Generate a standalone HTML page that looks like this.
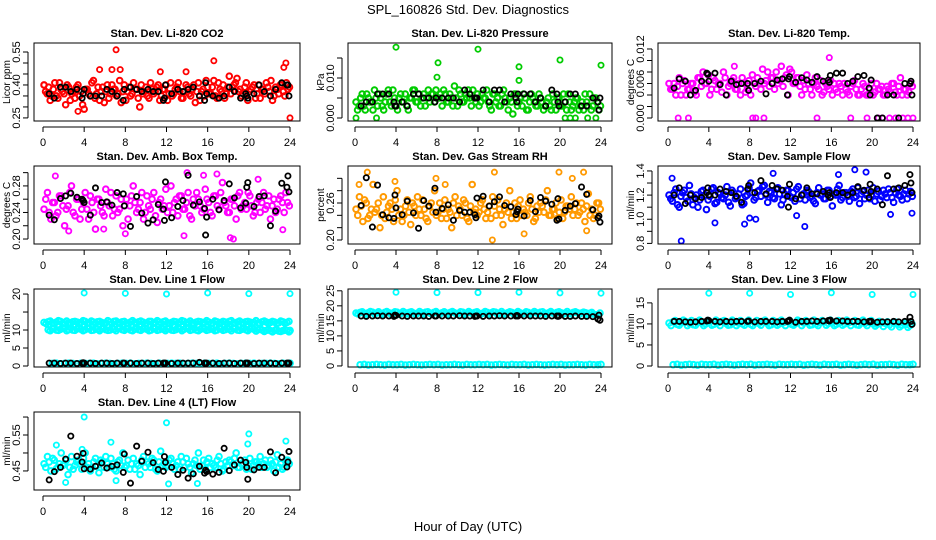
<!DOCTYPE html>
<html><head><meta charset="utf-8">
<style>
html,body{margin:0;padding:0;background:#fff;}
svg{display:block;font-family:"Liberation Sans",sans-serif;}
</style></head>
<body>
<svg id="chart" width="936" height="540" viewBox="0 0 936 540">
<text x="468" y="14" text-anchor="middle" font-size="13">SPL_160826  Std. Dev. Diagnostics</text>
<text x="468" y="531" text-anchor="middle" font-size="13">Hour of Day (UTC)</text>
</svg>
<script>
// shared hours of black (hourly) points
const blkHours=[0.6,1.1,1.7,2.2,2.7,3.3,3.8,3.9,4.0,4.6,5.1,5.7,6.2,6.7,7.2,7.8,7.9,8.5,9.1,9.6,10.2,10.7,11.2,11.7,11.8,11.9,12.5,13.1,13.6,14.1,14.6,15.2,15.7,15.8,15.9,16.5,17.1,17.6,18.1,18.6,19.2,19.7,19.8,19.9,20.5,21.0,21.5,22.1,22.6,23.2,23.7,23.8,23.9];
const xTicks=[0,4,8,12,16,20,24];

// Panel 1 CO2
const co2Vals=[0.40,0.36,0.33,0.38,0.35,0.41,0.37,0.31,0.39,0.36,0.34,0.40,0.37,0.29,0.38,0.35,0.42,0.36,0.33,0.39,0.37,0.34,0.40,0.38,0.36,0.32,0.40,0.37,0.35,0.41,0.38,0.30,0.36,0.39,0.34,0.38,0.37,0.40,0.35,0.38,0.33,0.41,0.36,0.39,0.37,0.34,0.40,0.36,0.38,0.32,0.41,0.37,0.35,0.39,0.36,0.42,0.34,0.38,0.40,0.36,0.44,0.39,0.41,0.37,0.35,0.39,0.33,0.38,0.40,0.36,0.34,0.38,0.41,0.37,0.33,0.39,0.36,0.40,0.35,0.38];
const co2Vals2=[0.37,0.39,0.35,0.41,0.34,0.38,0.36,0.40,0.33,0.37,0.39,0.35,0.31,0.38,0.36,0.41,0.34,0.39,0.37,0.32,0.40,0.36,0.38,0.35,0.42,0.37,0.33,0.39,0.36,0.38,0.34,0.40,0.37,0.35,0.41,0.36,0.39,0.33,0.38,0.40,0.36,0.35,0.38,0.41,0.34,0.37,0.39,0.35,0.40,0.37,0.33,0.38,0.42,0.36,0.39,0.35,0.41,0.37,0.34,0.39,0.36,0.40,0.43,0.38,0.36,0.41,0.37,0.39,0.34,0.40,0.38,0.36,0.39,0.42,0.35,0.38,0.40,0.37,0.41,0.39];
const co2ExtraH=[7.1,16.6,23.6,24.0,5.5,6.7,7.5,11.4,13.9,23.4,0.1,3.4];
const co2ExtraV=[0.56,0.51,0.50,0.25,0.47,0.47,0.47,0.46,0.46,0.48,0.40,0.28];
const co2Blk=[0.36,0.34,0.39,0.39,0.37,0.38,0.34,0.36,0.38,0.35,0.35,0.35,0.38,0.37,0.35,0.33,0.38,0.39,0.38,0.37,0.38,0.37,0.37,0.33,0.34,0.40,0.36,0.38,0.37,0.38,0.39,0.35,0.33,0.41,0.36,0.35,0.34,0.35,0.39,0.37,0.34,0.36,0.35,0.34,0.36,0.40,0.37,0.35,0.38,0.41,0.40,0.40,0.35];

// Panel 2 Pressure
const presVals=[0.004,0.003,0.006,0.002,0.005,0.004,0.007,0.003,0.005,0.002,0.006,0.004,0.007,0.003,0.005,0.004,0.006,0.002,0.005,0.007,0.004,0.003,0.006,0.005,0.004,0.006,0.007,0.005,0.003,0.006,0.004,0.005,0.008,0.003,0.006,0.004,0.005,0.005,0.007,0.004,0.003,0.006,0.005,0.004,0.002,0.006,0.005,0.003,0.007,0.004,0.005,0.001,0.006,0.004,0.003,0.005,0.002,0.006,0.004,0.003,0.005,0.002,0.004,0.003,0.006,0.002,0.005,0.003,0.004,0.006,0.002,0.004,0.005,0.003,0.002,0.004,0.006,0.003,0.005,0.002];
const presVals2=[0.002,0.005,0.003,0.006,0.004,0.002,0.005,0.006,0.003,0.004,0.007,0.003,0.005,0.002,0.006,0.004,0.003,0.005,0.007,0.004,0.006,0.005,0.003,0.007,0.006,0.004,0.005,0.006,0.007,0.004,0.006,0.003,0.005,0.007,0.004,0.006,0.007,0.003,0.005,0.006,0.004,0.005,0.007,0.003,0.006,0.004,0.003,0.006,0.005,0.002,0.004,0.006,0.003,0.005,0.006,0.002,0.004,0.005,0.003,0.006,0.004,0.003,0.005,0.002,0.004,0.005,0.003,0.006,0.002,0.004,0.003,0.005,0.002,0.004,0.006,0.003,0.002,0.005,0.004,0.003];
const presExtraH=[4.0,8.1,12.0,16.0,20.0,24.0,8.0,16.0,0.1,2.1,20.5,21.0,21.5,22.7,23.5];
const presExtraV=[0.0177,0.0138,0.0172,0.0128,0.0145,0.0132,0.0102,0.0094,0.0000,0.0000,0.0000,0.0000,0.0000,0.0000,0.0000];
const presBlk=[0.003,0.004,0.004,0.006,0.006,0.006,0.004,0.003,0.003,0.004,0.003,0.006,0.006,0.005,0.005,0.004,0.005,0.005,0.005,0.005,0.004,0.007,0.006,0.005,0.005,0.005,0.007,0.004,0.007,0.007,0.004,0.006,0.005,0.004,0.006,0.006,0.006,0.004,0.005,0.003,0.007,0.006,0.004,0.003,0.004,0.006,0.006,0.003,0.003,0.005,0.004,0.002,0.005];

// Panel 3 Li-820 Temp
const tempVals=[0.006,0.005,0.004,0.007,0.006,0.004,0.005,0.006,0.004,0.007,0.008,0.006,0.004,0.007,0.005,0.006,0.008,0.004,0.006,0.007,0.005,0.004,0.006,0.005,0.004,0.006,0.007,0.005,0.006,0.008,0.007,0.005,0.006,0.009,0.007,0.004,0.008,0.006,0.007,0.004,0.005,0.006,0.004,0.007,0.005,0.004,0.006,0.005,0.004,0.005,0.006,0.004,0.005,0.004,0.006,0.005,0.004,0.006,0.004,0.005,0.004,0.006,0.005,0.004,0.0055,0.0045,0.006,0.004,0.007,0.005,0.004,0.006];
const tempVals2=[0.005,0.006,0.0055,0.004,0.0065,0.005,0.006,0.0045,0.007,0.0055,0.006,0.0075,0.005,0.0065,0.006,0.0045,0.007,0.0055,0.0065,0.005,0.006,0.007,0.0045,0.0065,0.0075,0.0055,0.006,0.0085,0.0065,0.0055,0.007,0.008,0.0065,0.0055,0.0075,0.0085,0.006,0.007,0.0055,0.0065,0.0075,0.005,0.006,0.0055,0.0065,0.0045,0.0055,0.0065,0.006,0.0045,0.0055,0.006,0.0045,0.0055,0.0065,0.004,0.005,0.0055,0.004,0.006,0.0045,0.005,0.0055,0.004,0.005,0.006,0.0045,0.0055,0.004,0.005,0.0045,0.0055];
const tempExtraH=[1.0,2.0,8.3,8.6,9.4,14.6,17.9,19.5,20.6,21.0,21.7,22.3,23.0,23.5,24.0,15.8,6.5];
const tempExtraV=[0,0,0,0,0,0,0,0,0,0,0,0,0,0,0,0.0105,0.0090];
const tempBlk=[0.0052,0.0068,0.0064,0.004,0.0048,0.0064,0.0078,0.0076,0.0064,0.0078,0.0058,0.004,0.0064,0.0058,0.006,0.006,0.0048,0.006,0.0064,0.0042,0.006,0.0066,0.0068,0.004,0.0068,0.0072,0.0062,0.007,0.0066,0.0062,0.0072,0.0064,0.0066,0.0062,0.0074,0.0078,0.0078,0.006,0.0064,0.0072,0.0074,0.0052,0.004,0.0066,0,0,0.004,0.004,0,0.006,0.006,0.0064,0.004];

// Panel 4 Amb Box Temp
const ambVals=[0.245,0.27,0.23,0.255,0.24,0.265,0.22,0.25,0.28,0.235,0.26,0.245,0.27,0.23,0.255,0.215,0.26,0.24,0.275,0.25,0.235,0.265,0.245,0.22,0.26,0.25,0.28,0.24,0.255,0.23,0.265,0.245,0.27,0.225,0.26,0.25,0.24,0.28,0.255,0.235,0.265,0.245,0.27,0.23,0.25,0.26,0.24,0.275,0.255,0.235,0.265,0.245,0.285,0.25,0.24,0.26,0.23,0.27,0.25,0.245,0.265,0.235,0.255,0.24,0.27,0.25,0.23,0.26,0.245,0.265,0.24,0.255];
const ambVals2=[0.26,0.24,0.255,0.235,0.265,0.25,0.245,0.27,0.24,0.26,0.23,0.255,0.245,0.265,0.24,0.26,0.25,0.235,0.255,0.27,0.245,0.24,0.26,0.25,0.23,0.265,0.255,0.245,0.27,0.24,0.25,0.26,0.235,0.255,0.245,0.275,0.25,0.24,0.26,0.265,0.245,0.255,0.235,0.26,0.27,0.25,0.245,0.26,0.24,0.265,0.25,0.27,0.255,0.24,0.26,0.25,0.265,0.245,0.255,0.27,0.25,0.24,0.26,0.255,0.245,0.265,0.25,0.24,0.26,0.255,0.27,0.25];
const ambExtraH=[1.2,14.0,15.6,16.9,18.5,20.9,13.7,18.2,2.5,23.3,8.0,5.9];
const ambExtraV=[0.295,0.30,0.296,0.298,0.20,0.29,0.205,0.202,0.212,0.214,0.208,0.215];
const ambBlk=[0.236,0.229,0.261,0.265,0.269,0.263,0.26,0.258,0.255,0.236,0.277,0.255,0.256,0.251,0.27,0.268,0.25,0.219,0.264,0.239,0.224,0.229,0.252,0.245,0.228,0.286,0.232,0.249,0.258,0.296,0.251,0.256,0.246,0.206,0.233,0.26,0.244,0.258,0.283,0.262,0.247,0.254,0.278,0.285,0.249,0.264,0.265,0.22,0.242,0.284,0.278,0.295,0.271];

// Panel 5 Gas Stream RH
const rhVals=[0.25,0.27,0.23,0.26,0.24,0.29,0.25,0.22,0.27,0.245,0.26,0.23,0.28,0.25,0.24,0.265,0.225,0.255,0.27,0.24,0.25,0.23,0.26,0.28,0.245,0.235,0.265,0.25,0.22,0.27,0.255,0.24,0.26,0.23,0.29,0.25,0.245,0.265,0.235,0.255,0.27,0.24,0.25,0.225,0.26,0.28,0.245,0.235,0.265,0.25,0.24,0.27,0.23,0.255,0.26,0.245,0.28,0.24,0.25,0.235,0.265,0.245,0.255,0.27,0.25,0.24,0.26,0.23,0.275,0.25,0.24,0.26];
const rhVals2=[0.24,0.255,0.265,0.235,0.25,0.245,0.26,0.24,0.235,0.255,0.25,0.265,0.24,0.23,0.255,0.245,0.26,0.24,0.25,0.265,0.235,0.255,0.245,0.24,0.26,0.25,0.235,0.245,0.26,0.24,0.25,0.265,0.235,0.255,0.245,0.24,0.26,0.25,0.245,0.235,0.255,0.265,0.24,0.25,0.245,0.235,0.26,0.255,0.24,0.245,0.26,0.25,0.235,0.245,0.255,0.265,0.24,0.25,0.26,0.245,0.235,0.255,0.25,0.24,0.26,0.245,0.25,0.255,0.24,0.235,0.26,0.25];
const rhExtraH=[1.2,8.8,13.6,19.9,22.3,13.4,16.5,22.6,0.4,7.9,3.9,21.2];
const rhExtraV=[0.31,0.29,0.31,0.31,0.31,0.20,0.21,0.215,0.29,0.30,0.295,0.30];
const rhBlk=[0.256,0.301,0.221,0.289,0.241,0.236,0.235,0.273,0.252,0.241,0.263,0.244,0.219,0.264,0.255,0.284,0.245,0.251,0.257,0.232,0.248,0.245,0.245,0.241,0.236,0.268,0.271,0.255,0.262,0.27,0.256,0.254,0.241,0.246,0.25,0.239,0.264,0.246,0.269,0.263,0.258,0.232,0.267,0.234,0.248,0.255,0.259,0.286,0.274,0.249,0.236,0.239,0.229];

// Panel 6 Sample Flow
const sfVals=[1.20,1.15,1.25,1.10,1.22,1.18,1.28,1.12,1.20,1.16,1.24,1.08,1.19,1.26,1.14,1.21,1.17,1.27,1.11,1.22,1.18,1.25,1.13,1.20,1.30,1.16,1.23,1.19,1.28,1.14,1.22,1.17,1.26,1.12,1.21,1.24,1.18,1.15,1.27,1.20,1.16,1.23,1.19,1.13,1.26,1.21,1.17,1.24,1.11,1.20,1.28,1.18,1.22,1.15,1.25,1.19,1.13,1.23,1.20,1.17,1.26,1.21,1.16,1.24,1.18,1.22,1.14,1.25,1.19,1.21,1.17,1.23];
const sfVals2=[1.17,1.22,1.12,1.19,1.24,1.15,1.21,1.18,1.10,1.23,1.20,1.16,1.25,1.13,1.22,1.18,1.20,1.14,1.24,1.17,1.21,1.12,1.19,1.26,1.22,1.18,1.24,1.27,1.20,1.23,1.18,1.25,1.21,1.16,1.24,1.19,1.22,1.25,1.17,1.21,1.24,1.18,1.15,1.22,1.20,1.17,1.24,1.19,1.21,1.25,1.16,1.22,1.19,1.23,1.18,1.26,1.21,1.17,1.24,1.20,1.15,1.23,1.19,1.21,1.25,1.18,1.22,1.20,1.16,1.24,1.21,1.19];
const sfExtraH=[1.3,4.6,7.5,8.0,8.6,13.4,18.3,19.4,16.7,10.3,0.4,23.9,12.6,21.8];
const sfExtraV=[0.82,0.97,0.96,1.01,1.00,0.94,1.41,1.39,1.37,1.38,1.34,1.05,1.03,1.04];
const sfBlk=[1.20,1.26,1.13,1.20,1.17,1.18,1.22,1.26,1.20,1.20,1.25,1.23,1.22,1.19,1.14,1.25,1.28,1.22,1.32,1.21,1.28,1.25,1.24,1.19,1.10,1.29,1.17,1.20,1.26,1.21,1.21,1.23,1.20,1.22,1.18,1.22,1.22,1.20,1.22,1.27,1.24,1.18,1.29,1.23,1.25,1.12,1.36,1.25,1.26,1.28,1.37,1.30,1.22];

// Panel 7 Line 1 Flow
const l1HighVals=[12.1,12.3,12.0,12.2,12.4,12.1,12.0,12.3,12.2,12.1,12.4,12.0,12.2,12.3,12.1,12.0,12.2,12.4,12.1,12.3,12.0,12.2,12.1,12.3,12.2,12.0,12.4,12.1,12.2,12.3,12.0,12.1,12.3,12.2,12.4,12.1,12.0,12.2,12.3,12.1,12.2,12.0,12.3,12.1,12.2,12.4,12.0,12.2,12.1,12.3,12.2,12.1,12.0,12.3,12.2,12.1,12.2,12.0,12.3,12.1];
const l1HighVals2=[11.8,12.5,11.9,12.6,11.8,12.5,11.9,12.4,11.8,12.6,11.9,12.5,11.8,12.4,11.9,12.6,11.8,12.5,11.9,12.4,11.8,12.6,11.9,12.5,11.8,12.4,11.9,12.6,11.8,12.5,11.9,12.4,11.8,12.6,11.9,12.5,11.8,12.4,11.9,12.6,11.8,12.5,11.9,12.4,11.8,12.6,11.9,12.5,11.8,12.4,11.9,12.6,11.8,12.5,11.9,12.4,11.8,12.5,11.9,12.4];
const l1MidVals=[10.1,10.3,10.0,10.2,10.4,10.1,10.0,10.3,10.2,10.1,10.4,10.0,10.2,10.3,10.1,10.0,10.2,10.4,10.1,10.3,10.0,10.2,10.1,10.3,10.2,10.0,10.4,10.1,10.2,10.3,10.0,10.1,10.3,10.2,10.4,10.1,10.0,10.2,10.3,10.1,10.2,10.0,10.3,10.1,10.2,10.4,10.0,10.2,10.1,10.3,10.2,10.1,10.0,9.9,9.8,9.9,9.7,9.8,9.9,9.8];
const l1MidVals2=[9.8,10.6,9.9,10.5,9.8,10.6,9.9,10.5,9.8,10.6,9.9,10.5,9.8,10.6,9.9,10.5,9.8,10.6,9.9,10.5,9.8,10.6,9.9,10.5,9.8,10.6,9.9,10.5,9.8,10.6,9.9,10.5,9.8,10.6,9.9,10.5,9.8,10.6,9.9,10.5,9.8,10.6,9.9,10.5,9.8,10.6,9.9,10.5,9.8,10.4,9.7,10.3,9.6,10.2,9.5,10.1,9.6,10.0,9.5,9.9];
const l1LowVals=[0.7,0.8,0.6,0.7,0.8,0.7,0.6,0.8,0.7,0.7,0.8,0.6,0.7,0.8,0.7,0.6,0.7,0.8,0.7,0.8,0.6,0.7,0.7,0.8,0.7,0.6,0.8,0.7,0.7,0.8,0.7,0.8,0.6,0.7,0.8,0.7,0.6,0.8,0.7,0.7,0.8,0.6,0.7,0.8,0.7,0.6,0.7,0.8,0.7,0.8,0.6,0.7,0.7,0.8,0.7,0.6,0.8,0.7,0.7,0.8];
const l1ExtraH=[4,8,12,16,20,24];
const l1ExtraV=[20.3,20.2,20.0,20.3,20.1,20.1];
const l1Blk=[0.8,0.8,0.7,0.8,0.8,0.7,0.8,0.9,0.8,0.8,0.7,0.8,0.8,0.7,0.8,0.8,0.8,0.8,0.7,0.8,0.8,0.7,0.8,0.8,0.8,0.8,0.7,0.8,0.8,0.8,0.8,1.0,0.8,0.8,0.8,0.8,0.7,0.8,0.8,0.7,0.8,0.8,0.8,0.8,0.7,0.8,0.8,0.8,0.7,0.8,0.8,0.8,0.8];

// Panel 8 Line 2 Flow
const l2HighVals=[17.6,17.8,17.5,17.7,17.9,17.6,17.5,17.8,17.7,17.6,17.9,17.5,17.7,17.8,17.6,17.5,17.7,17.9,17.6,17.8,17.5,17.7,17.6,17.8,17.7,17.5,17.9,17.6,17.7,17.8,17.5,17.6,17.8,17.7,17.9,17.6,17.5,17.7,17.8,17.6,17.7,17.5,17.8,17.6,17.7,17.9,17.5,17.7,17.6,17.8,17.7,17.6,17.5,17.8,17.7,17.6,17.7,17.5,17.2,17.0];
const l2HighVals2=[17.3,18.0,17.2,18.1,17.3,18.0,17.2,18.1,17.3,18.0,17.2,18.1,17.3,18.0,17.2,18.1,17.3,18.0,17.2,18.1,17.3,18.0,17.2,18.1,17.3,18.0,17.2,18.1,17.3,18.0,17.2,18.1,17.3,18.0,17.2,18.1,17.3,18.0,17.2,18.1,17.3,18.0,17.2,18.1,17.3,18.0,17.2,18.1,17.3,18.0,17.2,18.1,17.3,18.0,17.2,17.9,17.1,17.8,17.0,17.6];
const l2LowVals=[0.4,0.5,0.3,0.4,0.5,0.4,0.3,0.5,0.4,0.4,0.5,0.3,0.4,0.5,0.4,0.3,0.4,0.5,0.4,0.5,0.3,0.4,0.4,0.5,0.4,0.3,0.5,0.4,0.4,0.5,0.4,0.5,0.3,0.4,0.5,0.4,0.3,0.5,0.4,0.4,0.5,0.3,0.4,0.5,0.4,0.3,0.4,0.5,0.4,0.5,0.3,0.4,0.4,0.5,0.4,0.3,0.5,0.4,0.4,0.5];
const l2ExtraH=[4,8,12,16,20,24];
const l2ExtraV=[24.5,24.4,24.4,24.5,24.3,24.2];
const l2Blk=[16.6,16.5,16.6,16.7,16.6,16.6,16.5,16.9,16.8,16.6,16.5,16.6,16.6,16.6,16.5,16.6,16.6,16.6,16.6,16.6,16.7,16.6,16.6,16.5,16.6,16.6,16.5,16.6,16.6,16.7,16.6,16.6,16.6,16.8,16.6,16.6,16.6,16.6,16.6,16.5,16.6,16.6,16.5,16.6,16.5,16.5,16.6,16.5,16.5,16.4,15.6,16.9,15.2];

// Panel 9 Line 3 Flow
const l3HighVals=[10.2,10.5,9.9,10.3,10.6,10.1,9.8,10.4,10.2,10.0,10.5,9.9,10.3,10.6,10.1,9.8,10.4,10.2,10.0,10.5,9.9,10.3,10.1,10.6,10.2,9.8,10.4,10.0,10.3,10.5,9.9,10.1,10.6,10.2,10.4,9.8,10.0,10.3,10.5,10.1,10.2,9.9,10.4,10.0,10.3,10.5,9.8,10.2,10.1,10.4,10.0,9.9,10.3,10.1,9.8,10.2,9.9,9.7,9.9,9.6];
const l3HighVals2=[9.6,10.8,9.7,10.9,9.6,10.8,9.7,10.9,9.6,10.8,9.7,10.9,9.6,10.8,9.7,10.9,9.6,10.8,9.7,10.9,9.6,10.8,9.7,10.9,9.6,10.8,9.7,10.9,9.6,10.8,9.7,10.9,9.6,10.8,9.7,10.9,9.6,10.8,9.7,10.9,9.6,10.8,9.7,10.9,9.6,10.8,9.7,10.9,9.6,10.8,9.5,10.6,9.4,10.5,9.3,10.4,9.3,10.2,9.2,10.0];
const l3LowVals=[0.3,0.4,0.2,0.3,0.4,0.3,0.2,0.4,0.3,0.3,0.4,0.2,0.3,0.4,0.3,0.2,0.3,0.4,0.3,0.4,0.2,0.3,0.3,0.4,0.3,0.2,0.4,0.3,0.3,0.4,0.3,0.4,0.2,0.3,0.4,0.3,0.2,0.4,0.3,0.3,0.4,0.2,0.3,0.4,0.3,0.2,0.3,0.4,0.3,0.4,0.2,0.3,0.3,0.4,0.3,0.2,0.4,0.3,0.3,0.4];
const l3ExtraH=[4,8,12,16,20,24];
const l3ExtraV=[17.3,17.3,17.0,17.4,17.0,17.0];
const l3Blk=[10.6,10.6,10.5,10.4,10.5,10.6,10.7,10.9,10.8,10.6,10.5,10.6,10.5,10.6,10.6,10.6,10.7,10.5,10.6,10.6,10.6,10.5,10.6,10.6,10.7,10.9,10.4,10.6,10.6,10.7,10.6,10.7,10.8,10.7,10.9,10.7,10.7,10.6,10.6,10.6,10.5,10.6,10.5,10.6,10.4,10.5,10.5,10.6,10.5,10.6,11.6,10.6,9.9];

// Panel 10 Line 4 (LT) Flow
const l4Vals=[0.47,0.49,0.45,0.48,0.46,0.50,0.47,0.44,0.49,0.465,0.48,0.455,0.50,0.47,0.46,0.485,0.445,0.475,0.49,0.46,0.47,0.45,0.48,0.50,0.465,0.455,0.485,0.47,0.44,0.49,0.475,0.46,0.48,0.45,0.505,0.47,0.465,0.485,0.455,0.475,0.49,0.46,0.47,0.445,0.48,0.50,0.465,0.455,0.485,0.47,0.46,0.49,0.45,0.475,0.48,0.465,0.50,0.46,0.47,0.455,0.485,0.465,0.475,0.49,0.47,0.46,0.48,0.45,0.495,0.47,0.46,0.48];
const l4Vals2=[0.46,0.475,0.485,0.455,0.47,0.465,0.48,0.46,0.455,0.475,0.47,0.485,0.46,0.45,0.475,0.465,0.48,0.46,0.47,0.485,0.455,0.475,0.465,0.46,0.48,0.47,0.455,0.465,0.48,0.46,0.47,0.485,0.455,0.475,0.465,0.46,0.48,0.47,0.465,0.455,0.475,0.485,0.46,0.47,0.465,0.455,0.48,0.475,0.46,0.465,0.48,0.47,0.455,0.465,0.475,0.485,0.46,0.47,0.48,0.465,0.455,0.475,0.47,0.46,0.48,0.465,0.47,0.475,0.46,0.455,0.48,0.47];
const l4ExtraH=[4.0,12.0,20.0,23.6,1.3,6.6,12.2,19.9,2.2,15.0,7.1,3.8];
const l4ExtraV=[0.60,0.584,0.553,0.533,0.522,0.530,0.414,0.525,0.418,0.415,0.423,0.51];
const l4Blk=[0.425,0.448,0.460,0.483,0.547,0.491,0.475,0.499,0.456,0.455,0.463,0.472,0.458,0.463,0.467,0.446,0.497,0.416,0.519,0.477,0.502,0.473,0.454,0.449,0.490,0.474,0.460,0.440,0.452,0.430,0.442,0.463,0.444,0.452,0.448,0.441,0.446,0.513,0.451,0.467,0.480,0.474,0.460,0.427,0.453,0.460,0.460,0.503,0.445,0.488,0.461,0.475,0.504];

const NS='http://www.w3.org/2000/svg';
const svg=document.getElementById('chart');
function mk(tag,attrs,parent){const e=document.createElementNS(NS,tag);for(const k in attrs)e.setAttribute(k,attrs[k]);(parent||svg).appendChild(e);return e;}

const cols=[{l:34,r:300,x0:43,x1:290},{l:348,r:612,x0:355,x1:601},{l:658,r:920,x0:668,x1:913}];
const rows=[{t:43,b:121},{t:166,b:244},{t:289,b:367},{t:412,b:490}];

const panels=[
 {name:'co2',title:'Stan. Dev. Li-820 CO2',ylab:'Licor ppm',c:0,r:0,lo:0.236,hi:0.591,ticks:[0.25,0.30,0.35,0.40,0.45,0.50,0.55],labels:['0.25','0.40','0.55'],color:'#ff0000',series:[co2Vals,co2Vals2],xh:co2ExtraH,xv:co2ExtraV,blk:co2Blk},
 {name:'pressure',title:'Stan. Dev. Li-820 Pressure',ylab:'kPa',c:1,r:0,lo:-0.00075,hi:0.01875,ticks:[0,0.005,0.010,0.015],labels:['0.000','0.010'],color:'#00cc00',series:[presVals,presVals2],xh:presExtraH,xv:presExtraV,blk:presBlk},
 {name:'li820-temp',title:'Stan. Dev. Li-820 Temp.',ylab:'degrees C',c:2,r:0,lo:-0.00052,hi:0.01304,ticks:[0,0.002,0.004,0.006,0.008,0.010,0.012],labels:['0.000','0.006','0.012'],color:'#ff00ff',series:[tempVals,tempVals2],xh:tempExtraH,xv:tempExtraV,blk:tempBlk},
 {name:'amb-box-temp',title:'Stan. Dev. Amb. Box Temp.',ylab:'degrees C',c:0,r:1,lo:0.1925,hi:0.310,ticks:[0.20,0.22,0.24,0.26,0.28,0.30],labels:['0.20','0.24','0.28'],color:'#ff00ff',series:[ambVals,ambVals2],xh:ambExtraH,xv:ambExtraV,blk:ambBlk},
 {name:'gas-stream-rh',title:'Stan. Dev. Gas Stream RH',ylab:'percent',c:1,r:1,lo:0.1935,hi:0.320,ticks:[0.20,0.22,0.24,0.26,0.28,0.30],labels:['0.20','0.26'],color:'#ff9900',series:[rhVals,rhVals2],xh:rhExtraH,xv:rhExtraV,blk:rhBlk},
 {name:'sample-flow',title:'Stan. Dev. Sample Flow',ylab:'ml/min',c:2,r:1,lo:0.795,hi:1.441,ticks:[0.8,0.9,1.0,1.1,1.2,1.3,1.4],labels:['0.8','1.0','1.2','1.4'],color:'#0000ff',series:[sfVals,sfVals2],xh:sfExtraH,xv:sfExtraV,blk:sfBlk},
 {name:'line1-flow',title:'Stan. Dev. Line 1 Flow',ylab:'ml/min',c:0,r:2,lo:-0.28,hi:21.4,ticks:[0,5,10,15,20],labels:['0','5','10','20'],color:'#00ffff',series:[l1HighVals,l1HighVals2,l1MidVals,l1MidVals2,l1LowVals],xh:l1ExtraH,xv:l1ExtraV,blk:l1Blk},
 {name:'line2-flow',title:'Stan. Dev. Line 2 Flow',ylab:'ml/min',c:1,r:2,lo:-0.35,hi:25.6,ticks:[0,5,10,15,20,25],labels:['0','5','10','15','20','25'],color:'#00ffff',series:[l2HighVals,l2HighVals2,l2LowVals],xh:l2ExtraH,xv:l2ExtraV,blk:l2Blk},
 {name:'line3-flow',title:'Stan. Dev. Line 3 Flow',ylab:'ml/min',c:2,r:2,lo:-0.24,hi:18.3,ticks:[0,5,10,15],labels:['0','5','10','15'],color:'#00ffff',series:[l3HighVals,l3HighVals2,l3LowVals],xh:l3ExtraH,xv:l3ExtraV,blk:l3Blk},
 {name:'line4-flow',title:'Stan. Dev. Line 4 (LT) Flow',ylab:'ml/min',c:0,r:3,lo:0.397,hi:0.614,ticks:[0.45,0.50,0.55,0.60],labels:['0.45','0.55'],color:'#00ffff',series:[l4Vals,l4Vals2],xh:l4ExtraH,xv:l4ExtraV,blk:l4Blk}
];

panels.forEach(p=>{
  const C=cols[p.c],R=rows[p.r];
  const g=mk('g',{});
  
  
  const xs=h=>C.x0+(C.x1-C.x0)*h/24;
  const ys=v=>R.b-(v-p.lo)/(p.hi-p.lo)*(R.b-R.t);
  const t=mk('text',{x:(C.l+C.r)/2,y:R.t-6,'text-anchor':'middle','font-size':'11','font-weight':'bold'},g);
  t.textContent=p.title;
  
  
  const pts=mk('g',{},g);
  // colored series: each array evenly spaced over the day, successive arrays phase-shifted
  p.series.forEach((arr,k)=>{
    const n=arr.length;
    const step=24/n;
    arr.forEach((v,i)=>{
      const h=(i+k*0.5)*step+0.1;
      const c=mk('circle',{cx:xs(Math.min(h,24)),cy:ys(v),r:2.8,fill:'none',stroke:p.color,'stroke-width':2},pts);
      
      
    });
  });
  p.xh.forEach((h,i)=>{
    const c=mk('circle',{cx:xs(h),cy:ys(p.xv[i]),r:2.6,fill:'none',stroke:p.color,'stroke-width':1.8},pts);
    
    
  });
  const nb=Math.min(blkHours.length,p.blk.length);
  for(let i=0;i<nb;i++){
    const c=mk('circle',{cx:xs(blkHours[i]),cy:ys(p.blk[i]),r:2.6,fill:'none',stroke:'#000','stroke-width':1.8},pts);
    
    
  }
  const box=mk('rect',{x:C.l,y:R.t,width:C.r-C.l,height:R.b-R.t,fill:'none',stroke:'#000','stroke-width':1},g);
  
  
  // x axis
  mk('line',{x1:xs(0),x2:xs(24),y1:R.b+6,y2:R.b+6,stroke:'#000'},g);
  xTicks.forEach(h=>{
    mk('line',{x1:xs(h),x2:xs(h),y1:R.b+6,y2:R.b+11,stroke:'#000'},g);
    const tl=mk('text',{x:xs(h),y:R.b+25,'text-anchor':'middle','font-size':'11'},g);
    tl.textContent=h;
    
    
  });
  // y axis
  const ax=C.l-6;
  mk('line',{x1:ax,x2:ax,y1:ys(p.ticks[0]),y2:ys(p.ticks[p.ticks.length-1]),stroke:'#000'},g);
  p.ticks.forEach(v=>{
    mk('line',{x1:ax-5,x2:ax,y1:ys(v),y2:ys(v),stroke:'#000'},g);
  });
  p.labels.forEach(s=>{
    const y=ys(parseFloat(s));
    const tl=mk('text',{x:ax-8,y:y,'text-anchor':'middle','font-size':'11',transform:'rotate(-90 '+(ax-8)+' '+y+')'},g);
    tl.textContent=s;
    
    
  });
  const ym=(R.t+R.b)/2;
  const yl=mk('text',{x:C.l-24,y:ym,'text-anchor':'middle','font-size':'10',transform:'rotate(-90 '+(C.l-24)+' '+ym+')'},g);
  yl.textContent=p.ylab;
  
  
});
</script>
</body></html>
